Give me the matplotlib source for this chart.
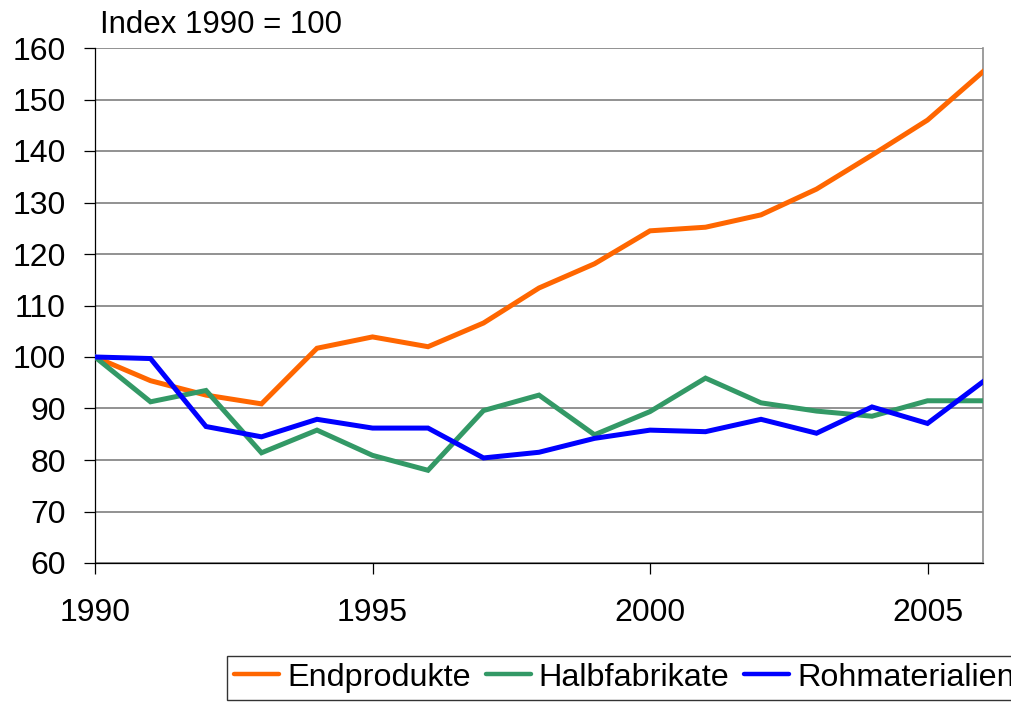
import matplotlib
matplotlib.use("Agg")
import matplotlib.pyplot as plt

years = list(range(1990, 2007))
endprodukte = [100, 95.4, 92.6, 90.9, 101.7, 103.9, 102.0, 106.6, 113.4, 118.1,
               124.5, 125.2, 127.6, 132.6, 139.2, 146.0, 155.4]
halbfabrikate = [100, 91.3, 93.5, 81.4, 85.8, 80.9, 78.0, 89.6, 92.6, 84.9,
                 89.4, 95.9, 91.1, 89.5, 88.5, 91.5, 91.5]
rohmaterialien = [100, 99.7, 86.5, 84.5, 87.9, 86.2, 86.2, 80.4, 81.5, 84.2,
                  85.8, 85.5, 87.9, 85.2, 90.3, 87.1, 95.2]
series_names = ["Endprodukte", "Halbfabrikate", "Rohmaterialien"]
colors = ["#FF6600", "#339966", "#0000FF"]
yticks = [60, 70, 80, 90, 100, 110, 120, 130, 140, 150, 160]
xticks = [1990, 1995, 2000, 2005]
title = "Index 1990 = 100"

plt.rcParams['font.family'] = ['Liberation Sans', 'DejaVu Sans']

W, H = 1011, 705
fig = plt.figure(figsize=(W / 100, H / 100), dpi=100)
ax = fig.add_axes([95 / W, 1 - 563 / H, (983 - 95) / W, (563 - 48) / H])

for vals, name, c in zip([endprodukte, halbfabrikate, rohmaterialien], series_names, colors):
    ax.plot(years, vals, color=c, lw=3.6, label=name, solid_joinstyle='miter', zorder=3)

ax.set_xlim(1990, 2006)
ax.set_ylim(60, 160)
ax.set_yticks(yticks)
ax.set_xticks(xticks)
ax.yaxis.grid(True, color='#7f7f7f', lw=1.2, zorder=1)
ax.set_axisbelow(True)

ax.spines['top'].set_visible(False)
ax.spines['right'].set_color('#8c8c8c')
ax.spines['right'].set_linewidth(1.2)
ax.spines['left'].set_color('black')
ax.spines['left'].set_linewidth(0.9)
ax.spines['bottom'].set_color('black')
ax.spines['bottom'].set_linewidth(0.9)

ax.tick_params(axis='y', direction='out', length=8, width=0.9, pad=13, labelsize=23)
ax.tick_params(axis='x', direction='out', length=8, width=0.9, pad=17, labelsize=23)

fig.text(100 / W, 1 - 33 / H, title, fontsize=22.5, va='baseline', ha='left')

fs = 23.3
leg = fig.legend(loc='upper left', bbox_to_anchor=(227 / W, 1 - 655.5 / H),
                 bbox_transform=fig.transFigure, ncol=3, frameon=True, fancybox=False,
                 borderaxespad=0, handlelength=1.39, handletextpad=0.25,
                 columnspacing=0.46, borderpad=0.22,
                 prop={'family': 'Liberation Sans', 'size': fs})
leg.get_frame().set_edgecolor('black')
leg.get_frame().set_linewidth(1.0)
for line in leg.get_lines():
    line.set_linewidth(3.2)
    line.set_solid_capstyle('round')

fig.savefig("out.png", dpi=100)
